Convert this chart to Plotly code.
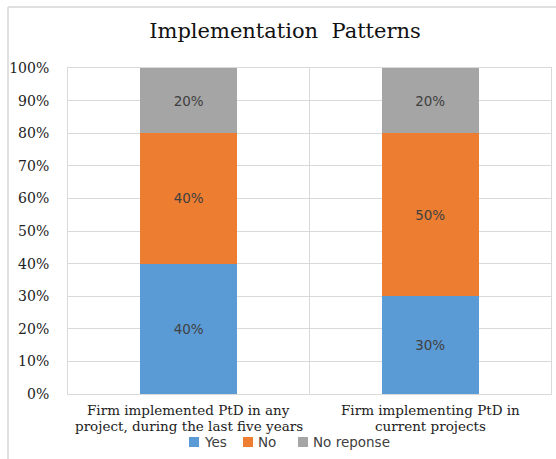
import plotly.graph_objects as go

categories = ["Firm implemented PtD in any<br>project, during the last five years",
              "Firm implementing PtD in<br>current projects"]
series_names = ["Yes", "No", "No reponse"]
yes_vals = [0.40, 0.30]
no_vals = [0.40, 0.50]
noresp_vals = [0.20, 0.20]
colors = ["#5B9BD5", "#ED7D31", "#A5A5A5"]
title_text = "Implementation  Patterns"

W, H = 556, 459
L, R, T, B = 68, 5, 68, 65
pw, ph = W - L - R, H - T - B


def px_x(x):
    return (x - L) / pw


def px_y(y):
    return (T + ph - y) / ph


fig = go.Figure()
for name, vals, col in zip(series_names, [yes_vals, no_vals, noresp_vals], colors):
    fig.add_trace(go.Bar(
        x=categories, y=vals, name=name, marker_color=col, marker_line_width=0,
        text=[f"{round(v*100)}%" for v in vals], textposition="inside",
        insidetextanchor="middle",
        textfont=dict(family="DejaVu Sans", size=13.5, color="#404040"),
        hoverinfo="skip", showlegend=False,
    ))

fig.update_layout(
    width=W, height=H, barmode="stack", bargap=0.6,
    margin=dict(l=L, r=R, t=T, b=B, autoexpand=False),
    paper_bgcolor="white", plot_bgcolor="white",
    title=dict(text=title_text, x=285 / W, xanchor="center", y=1 - 31 / H, yanchor="middle",
               font=dict(family="DejaVu Serif", size=21, color="#111111")),
    xaxis=dict(tickson="boundaries", showgrid=True, gridcolor="#D9D9D9", gridwidth=1,
               showline=True, linecolor="#D9D9D9", mirror=True, ticks="",
               showticklabels=False, automargin=False),
    yaxis=dict(range=[0, 1], tickformat=".0%", dtick=0.1, showgrid=True, gridcolor="#D9D9D9",
               showline=True, linecolor="#D9D9D9", mirror=True, ticks="", ticklabelstandoff=15,
               zeroline=False, automargin=False,
               tickfont=dict(family="DejaVu Serif", size=14, color="#222222")),
    showlegend=False,
)

# category labels, two tight lines each (Excel-like line spacing)
line_y = [410, 426]
for cat in categories:
    for line, ly in zip(cat.split("<br>"), line_y):
        fig.add_annotation(xref="x", yref="paper", x=cat, y=px_y(ly), text=line,
                           xanchor="center", yanchor="middle", showarrow=False,
                           font=dict(family="DejaVu Serif", size=13.5, color="#222222"))

# manual legend (Excel-like compact squares)
legend_sq_x = [189, 243, 298]
legend_y = 442
for name, col, sx in zip(series_names, colors, legend_sq_x):
    fig.add_shape(type="rect", xref="paper", yref="paper",
                  x0=px_x(sx), x1=px_x(sx + 10), y0=px_y(legend_y + 5), y1=px_y(legend_y - 5),
                  fillcolor=col, line_width=0)
    fig.add_annotation(xref="paper", yref="paper", x=px_x(sx + 13), y=px_y(legend_y),
                       xanchor="left", yanchor="middle", text=name, showarrow=False,
                       font=dict(family="DejaVu Sans", size=13.5, color="#404040"))

# outer chart border (top and left)
x0 = px_x(8)
y_top = px_y(7)
y_bot = px_y(H + 5)
fig.add_shape(type="line", xref="paper", yref="paper", x0=x0, x1=px_x(W + 5), y0=y_top, y1=y_top,
              line=dict(color="#D6D6D6", width=1.5))
fig.add_shape(type="line", xref="paper", yref="paper", x0=x0, x1=x0, y0=y_top, y1=y_bot,
              line=dict(color="#D6D6D6", width=1.5))

fig.write_html("out.html")
